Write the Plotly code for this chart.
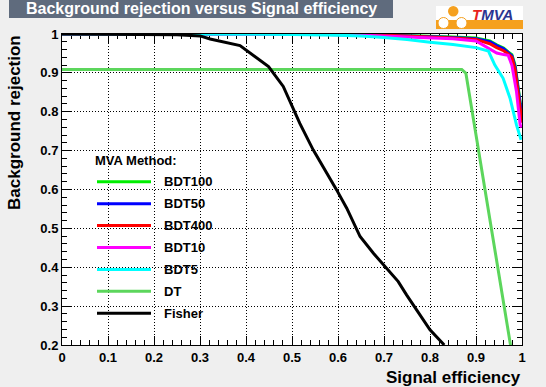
import plotly.graph_objects as go

# ---- data: background rejection vs signal efficiency (ROC curves) ----
bdt100_eff = [0.0, 0.5, 0.7, 0.8, 0.85, 0.9, 0.93, 0.945, 0.96, 0.97, 0.978, 0.985, 0.99, 0.996, 1.0]
bdt100_rej = [1.0, 1.0, 0.998, 0.995, 0.992, 0.990, 0.982, 0.972, 0.964, 0.954, 0.947, 0.920, 0.878, 0.830, 0.790]

bdt50_eff = [0.0, 0.5, 0.7, 0.8, 0.85, 0.9, 0.93, 0.945, 0.96, 0.97, 0.978, 0.985, 0.99, 0.996, 1.0]
bdt50_rej = [1.0, 1.0, 0.997, 0.994, 0.991, 0.988, 0.980, 0.970, 0.962, 0.952, 0.944, 0.915, 0.870, 0.820, 0.785]

bdt400_eff = [0.0, 0.5, 0.7, 0.8, 0.85, 0.9, 0.93, 0.945, 0.96, 0.97, 0.978, 0.985, 0.99, 0.996, 1.0]
bdt400_rej = [1.0, 1.0, 0.997, 0.993, 0.990, 0.986, 0.975, 0.965, 0.957, 0.949, 0.940, 0.908, 0.860, 0.800, 0.772]

bdt10_eff = [0.0, 0.5, 0.6, 0.65, 0.7, 0.75, 0.8, 0.85, 0.9, 0.93, 0.945, 0.96, 0.97, 0.978, 0.988, 0.996, 1.0]
bdt10_rej = [1.0, 1.0, 0.999, 0.997, 0.995, 0.993, 0.991, 0.988, 0.982, 0.962, 0.951, 0.947, 0.945, 0.920, 0.852, 0.766, 0.760]

bdt5_eff = [0.0, 0.3, 0.5, 0.6, 0.65, 0.7, 0.75, 0.8, 0.85, 0.9, 0.927, 0.941, 0.959, 0.974, 0.988, 0.998]
bdt5_rej = [1.0, 1.0, 0.999, 0.997, 0.995, 0.991, 0.986, 0.979, 0.973, 0.965, 0.956, 0.920, 0.886, 0.835, 0.766, 0.728]

dt_eff = [0.0, 0.869, 0.878, 0.975, 1.0]
dt_rej = [0.909, 0.909, 0.899, 0.200, 0.0]

fisher_eff = [0.0, 0.2, 0.25, 0.3, 0.322, 0.387, 0.409, 0.449, 0.481, 0.503, 0.517, 0.546, 0.561,
              0.597, 0.619, 0.648, 0.677, 0.702, 0.731, 0.749, 0.771, 0.8, 0.831]
fisher_rej = [1.0, 0.999, 0.998, 0.995, 0.987, 0.970, 0.950, 0.916, 0.865, 0.805, 0.770, 0.702, 0.672,
              0.599, 0.552, 0.479, 0.436, 0.402, 0.363, 0.329, 0.290, 0.239, 0.200]

methods = ["BDT100", "BDT50", "BDT400", "BDT10", "BDT5", "DT", "Fisher"]
colors = ["#00ee00", "#0000ff", "#ff0000", "#ff00ff", "#00ffff", "#5cd65c", "#000000"]
series_x = [bdt100_eff, bdt50_eff, bdt400_eff, bdt10_eff, bdt5_eff, dt_eff, fisher_eff]
series_y = [bdt100_rej, bdt50_rej, bdt400_rej, bdt10_rej, bdt5_rej, dt_rej, fisher_rej]

x_ticks = [0.0, 0.1, 0.2, 0.3, 0.4, 0.5, 0.6, 0.7, 0.8, 0.9, 1.0]
x_labels = ["0", "0.1", "0.2", "0.3", "0.4", "0.5", "0.6", "0.7", "0.8", "0.9", "1"]
y_ticks = [0.2, 0.3, 0.4, 0.5, 0.6, 0.7, 0.8, 0.9, 1.0]
y_labels = ["0.2", "0.3", "0.4", "0.5", "0.6", "0.7", "0.8", "0.9", "1"]
x_minor = [round(i * 0.02, 2) for i in range(51)]
y_minor = [round(0.2 + i * 0.02, 2) for i in range(41)]

# ---- figure geometry (pixels) ----
FW, FH = 546, 387
L, R, T, B = 62, 522, 34, 345
PW, PH = R - L, B - T


def px(xp):
    return (xp - L) / PW


def py(yp):
    return (B - yp) / PH


FONT = "Liberation Sans, Arial, Helvetica, sans-serif"

fig = go.Figure()
for name, col, xs, ys in zip(methods, colors, series_x, series_y):
    fig.add_trace(go.Scatter(x=xs, y=ys, mode="lines", name=name,
                             line=dict(color=col, width=3), showlegend=False))

# empty trace to carry the mirrored top/right tick axes
fig.add_trace(go.Scatter(x=[], y=[], xaxis="x2", yaxis="y2", showlegend=False, hoverinfo="skip"))

tickfont = dict(family=FONT, size=13, color="black", weight="bold")
common = dict(ticks="inside", ticklen=9, tickwidth=1, tickcolor="black",
              showline=True, linecolor="black", linewidth=1, zeroline=False,
              tickmode="array", layer="below traces", fixedrange=True)

fig.update_layout(
    width=FW, height=FH,
    margin=dict(l=L, r=FW - R, t=T, b=FH - B, pad=0),
    paper_bgcolor="#efefef", plot_bgcolor="white",
    showlegend=False,
    xaxis=dict(range=[0, 1], tickvals=x_ticks, ticktext=x_labels, tickfont=tickfont,
               showgrid=True, gridcolor="black", griddash="1px,2px", gridwidth=1,
               minor=dict(ticks="inside", ticklen=5, tickcolor="black", tickmode="array",
                          tickvals=x_minor, showgrid=False),
               **common),
    yaxis=dict(range=[0.2, 1], tickvals=y_ticks, ticktext=y_labels, tickfont=tickfont,
               showgrid=True, gridcolor="black", griddash="1px,2px", gridwidth=1,
               minor=dict(ticks="inside", ticklen=5, tickcolor="black", tickmode="array",
                          tickvals=y_minor, showgrid=False),
               **common),
    xaxis2=dict(range=[0, 1], overlaying="x", side="top", tickvals=x_ticks, showticklabels=False,
                showgrid=False,
                minor=dict(ticks="inside", ticklen=5, tickcolor="black", tickmode="array",
                           tickvals=x_minor, showgrid=False),
                **common),
    yaxis2=dict(range=[0.2, 1], overlaying="y", side="right", tickvals=y_ticks, showticklabels=False,
                showgrid=False,
                minor=dict(ticks="inside", ticklen=5, tickcolor="black", tickmode="array",
                           tickvals=y_minor, showgrid=False),
                **common),
)

shapes = []
annotations = []

# title box
shapes.append(dict(type="rect", xref="paper", yref="paper", x0=px(9), x1=px(393), y0=py(18), y1=py(-2),
                   fillcolor="#5f6b7d", line=dict(width=0), layer="above"))
annotations.append(dict(xref="paper", yref="paper", x=px(201), y=py(9), xanchor="center", yanchor="middle",
                        text="Background rejection versus Signal efficiency", showarrow=False,
                        font=dict(family=FONT, size=16, color="white", weight="bold")))

# TMVA logo
shapes.append(dict(type="rect", xref="paper", yref="paper", x0=px(436), x1=px(523), y0=py(29), y1=py(6),
                   fillcolor="white", line=dict(width=0), layer="above"))
shapes.append(dict(type="rect", xref="paper", yref="paper", x0=px(436), x1=px(523), y0=py(29), y1=py(20),
                   fillcolor="#f5a01e", line=dict(width=0), layer="above"))
shapes.append(dict(type="circle", xref="paper", yref="paper", x0=px(448), x1=px(458.5), y0=py(16.5), y1=py(6),
                   fillcolor="#f5a01e", line=dict(width=0), layer="above"))
for cx in (443.5, 461.5):
    shapes.append(dict(type="circle", xref="paper", yref="paper", x0=px(cx - 5.5), x1=px(cx + 5.5),
                       y0=py(28.5), y1=py(17.5), fillcolor="white", line=dict(color="#f5a01e", width=1),
                       layer="above"))
annotations.append(dict(xref="paper", yref="paper", x=px(470), y=py(15), xanchor="left", yanchor="middle",
                        text="<i><span style='color:#e8231c'>T</span>MVA</i>", showarrow=False,
                        font=dict(family=FONT, size=15, color="#2a3592", weight="bold")))

# axis titles
annotations.append(dict(xref="paper", yref="paper", x=px(523), y=py(377), xanchor="right", yanchor="middle",
                        text="Signal efficiency", showarrow=False,
                        font=dict(family=FONT, size=17, color="black", weight="bold")))
annotations.append(dict(xref="paper", yref="paper", x=px(14), y=py(123), xanchor="center", yanchor="middle",
                        text="Background rejection", textangle=-90, showarrow=False,
                        font=dict(family=FONT, size=17, color="black", weight="bold")))

# legend
annotations.append(dict(xref="paper", yref="paper", x=px(93), y=py(160.7), xanchor="left", yanchor="middle",
                        text="MVA Method:", showarrow=False,
                        font=dict(family=FONT, size=13, color="black", weight="bold")))
for i, (name, col) in enumerate(zip(methods, colors)):
    yy = 181.7 + i * 21.93
    shapes.append(dict(type="line", xref="paper", yref="paper", x0=px(97), x1=px(151), y0=py(yy), y1=py(yy),
                       line=dict(color=col, width=3), layer="above"))
    annotations.append(dict(xref="paper", yref="paper", x=px(162), y=py(yy), xanchor="left", yanchor="middle",
                            text=name, showarrow=False,
                            font=dict(family=FONT, size=13, color="black", weight="bold")))

fig.update_layout(shapes=shapes, annotations=annotations)
fig.write_html("out.html")
